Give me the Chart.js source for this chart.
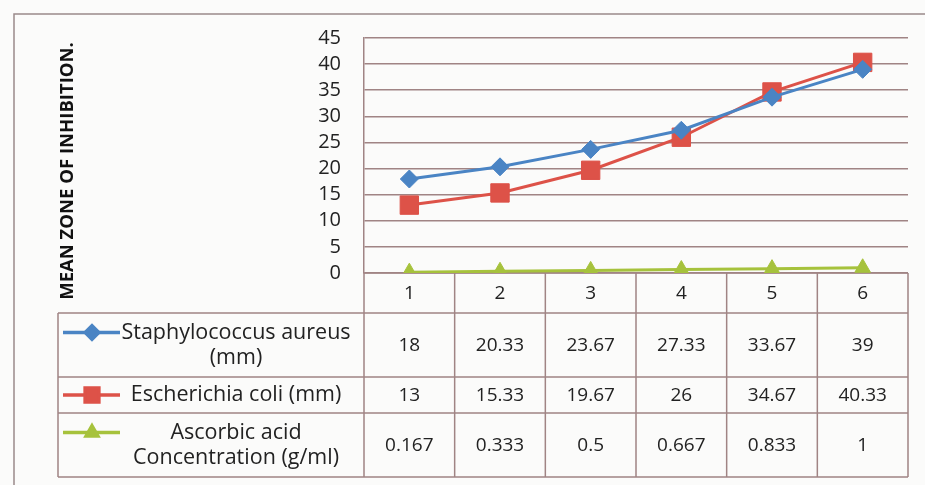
<!DOCTYPE html>
<html>
<head>
<meta charset="utf-8">
<script src="https://cdn.jsdelivr.net/npm/chart.js@4.4.1/dist/chart.umd.min.js"></script>
<style>
  html, body { margin: 0; padding: 0; background: #fbfbfa; }
  #wrap { width: 925px; height: 485px; }
</style>
</head>
<body>
<div id="wrap"><canvas id="chart" width="925" height="485"></canvas></div>
<script>
const categories = ['1', '2', '3', '4', '5', '6'];
const staphAureus = [18, 20.33, 23.67, 27.33, 33.67, 39];
const eColi = [13, 15.33, 19.67, 26, 34.67, 40.33];
const ascorbicAcid = [0.167, 0.333, 0.5, 0.667, 0.833, 1];
const yTicks = [0, 5, 10, 15, 20, 25, 30, 35, 40, 45];

const seriesLabels = [
	['Staphylococcus aureus', '(mm)'],
	['Escherichia coli (mm)'],
	['Ascorbic acid', 'Concentration (g/ml)'],
];

const gridColor = '#a08484';
const textColor = '#222';
const font = '"Open Sans", "DejaVu Sans", sans-serif';

// table rows below the plot: [top, bottom]
const rows = [
	[313, 377],
	[377, 413],
	[413, 477],
];

function drawKey(ctx, ds, y) {
	ctx.save();
	ctx.strokeStyle = ds.borderColor;
	ctx.lineWidth = 3.5;
	ctx.beginPath();
	ctx.moveTo(63, y);
	ctx.lineTo(120, y);
	ctx.stroke();
	ctx.fillStyle = ds.backgroundColor;
	Chart.helpers.drawPoint(ctx, {
		pointStyle: ds.pointStyle,
		radius: ds.pointRadius * 0.75,
		borderWidth: 1,
	}, 92, y);
	ctx.restore();
}

const dataTable = {
	id: 'dataTable',
	beforeDatasetsDraw(chart) {
		const { ctx, chartArea } = chart;
		const x = chart.scales.x;
		const colW = (chartArea.right - chartArea.left) / categories.length;

		ctx.save();
		// outer frame (only left and top are in view)
		ctx.strokeStyle = '#9a8a8a';
		ctx.lineWidth = 1.5;
		ctx.strokeRect(14, 14, 960, 520);

		ctx.strokeStyle = gridColor;
		ctx.lineWidth = 1.5;
		ctx.beginPath();
		ctx.moveTo(chartArea.left, chartArea.bottom);
		ctx.lineTo(chartArea.right, chartArea.bottom);
		ctx.moveTo(58, rows[0][0]);
		ctx.lineTo(chartArea.right, rows[0][0]);
		rows.forEach(r => {
			ctx.moveTo(58, r[1]);
			ctx.lineTo(chartArea.right, r[1]);
		});
		ctx.moveTo(58, rows[0][0]);
		ctx.lineTo(58, rows[2][1]);
		for (let i = 0; i <= categories.length; i++) {
			const px = chartArea.left + i * colW;
			ctx.moveTo(px, chartArea.bottom);
			ctx.lineTo(px, rows[2][1]);
		}
		ctx.stroke();

		ctx.fillStyle = textColor;
		ctx.textAlign = 'center';
		ctx.textBaseline = 'middle';
		ctx.font = '19px ' + font;
		categories.forEach((c, i) => {
			ctx.fillText(c, x.getPixelForValue(i), 294);
		});

		chart.data.datasets.forEach((ds, r) => {
			const mid = (rows[r][0] + rows[r][1]) / 2;
			ctx.fillStyle = textColor;
			ctx.font = '19px ' + font;
			ds.data.forEach((v, i) => {
				ctx.fillText(String(v), x.getPixelForValue(i), mid + 1);
			});
			const lines = seriesLabels[r];
			ctx.font = '21.5px ' + font;
			const keyY = lines.length > 1 ? mid - 12.5 : mid;
			lines.forEach((t, k) => {
				const ty = lines.length > 1 ? mid - 12.5 + k * 25 : mid;
				ctx.fillText(t, 236, ty);
			});
			drawKey(ctx, ds, keyY);
		});

		// y axis title
		ctx.save();
		ctx.translate(68, 171);
		ctx.rotate(-Math.PI / 2);
		ctx.fillStyle = '#111';
		ctx.font = 'bold 18.5px ' + font;
		ctx.fillText('MEAN ZONE OF INHIBITION.', 0, 0);
		ctx.restore();

		ctx.restore();
	},
};

const ctx = document.getElementById('chart').getContext('2d');
const dataChart = new Chart(ctx, {
	type: 'line',
	data: {
		labels: categories,
		datasets: [
			{
				label: seriesLabels[0].join(' '),
				data: staphAureus,
				borderColor: '#4a84c4',
				backgroundColor: '#4a84c4',
				pointStyle: 'rectRot',
				pointRadius: 9,
				pointBorderWidth: 1,
				borderWidth: 3,
			},
			{
				label: seriesLabels[1].join(' '),
				data: eColi,
				borderColor: '#dd5248',
				backgroundColor: '#dd5248',
				pointStyle: 'rect',
				pointRadius: 13,
				pointBorderWidth: 1,
				borderWidth: 3,
			},
			{
				label: seriesLabels[2].join(' '),
				data: ascorbicAcid,
				borderColor: '#a6c23c',
				backgroundColor: '#a6c23c',
				pointStyle: 'triangle',
				pointRadius: 9,
				pointBorderWidth: 1,
				borderWidth: 3,
			},
		],
	},
	options: {
		responsive: false,
		animation: false,
		layout: {
			padding: { top: 38, bottom: 212, left: 0, right: 17 },
		},
		scales: {
			x: {
				display: false,
				offset: true,
			},
			y: {
				min: 0,
				max: 45,
				afterFit(scale) {
					scale.width = 364;
				},
				afterBuildTicks(scale) {
					scale.ticks = yTicks.map(v => ({ value: v }));
				},
				grid: {
					color: gridColor,
					lineWidth: 1.5,
					drawTicks: false,
				},
				border: {
					color: gridColor,
					width: 1.5,
				},
				ticks: {
					autoSkip: false,
					padding: 23,
					color: textColor,
					font: { size: 20, family: font },
				},
			},
		},
		plugins: {
			legend: { display: false },
			tooltip: { enabled: false },
		},
	},
	plugins: [dataTable],
});
</script>
</body>
</html>
